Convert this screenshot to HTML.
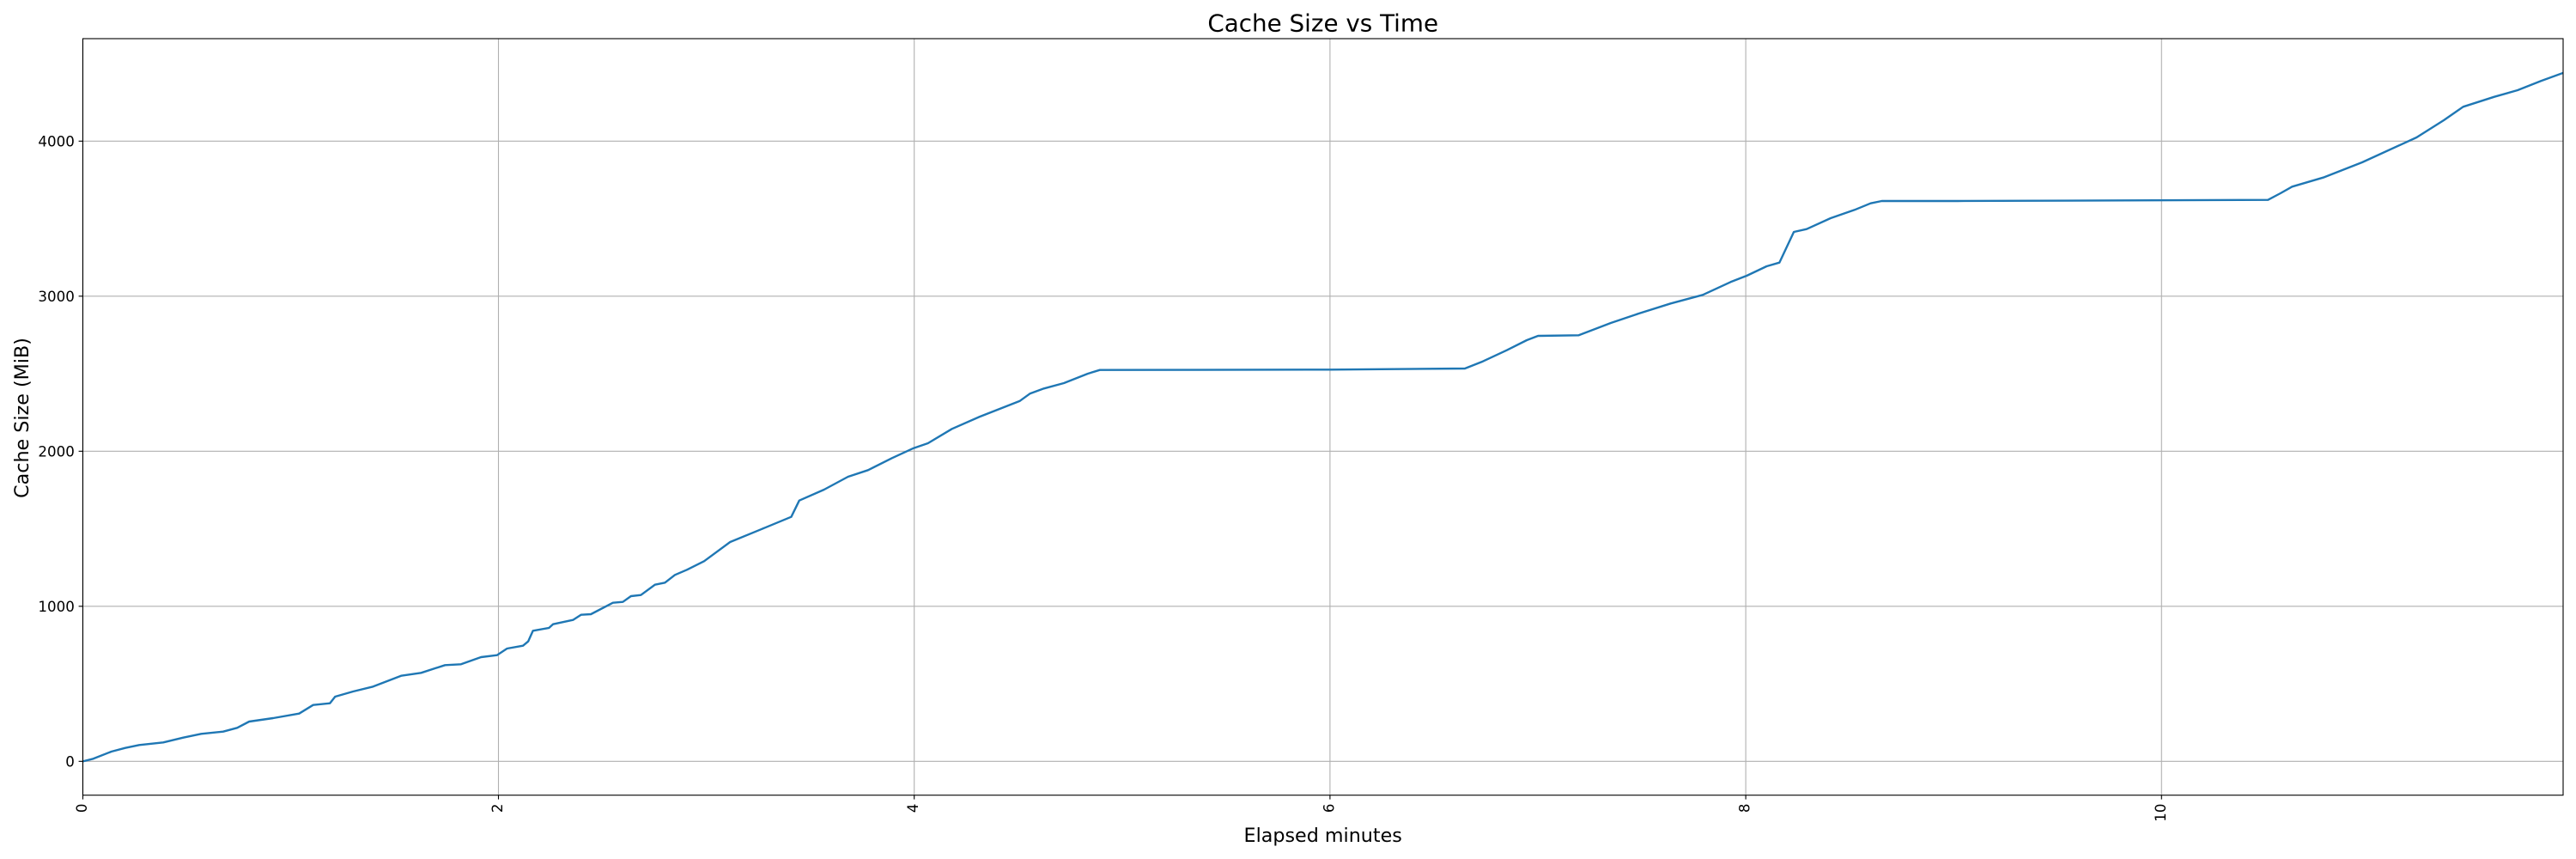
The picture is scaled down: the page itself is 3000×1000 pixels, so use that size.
<!DOCTYPE html>
<html>
<head>
<meta charset="utf-8">
<style>
html,body{margin:0;padding:0;background:#fff;}
svg{display:block;}
text{font-family:"DejaVu Sans","Liberation Sans",sans-serif;fill:#000;}
</style>
</head>
<body>
<svg width="3000" height="1000" viewBox="0 0 3000 1000" xmlns="http://www.w3.org/2000/svg">
<rect x="0" y="0" width="3000" height="1000" fill="#fff"/>
<defs>
<clipPath id="ax"><rect x="96.5" y="45" width="2888.5" height="880.7"/></clipPath>
</defs>
<!-- grid -->
<g stroke="#b0b0b0" stroke-width="1.1" fill="none">
<line x1="96.3" y1="45" x2="96.3" y2="925.7"/>
<line x1="580.5" y1="45" x2="580.5" y2="925.7"/>
<line x1="1064.7" y1="45" x2="1064.7" y2="925.7"/>
<line x1="1548.9" y1="45" x2="1548.9" y2="925.7"/>
<line x1="2033.1" y1="45" x2="2033.1" y2="925.7"/>
<line x1="2517.3" y1="45" x2="2517.3" y2="925.7"/>
<line x1="96.5" y1="886.3" x2="2985" y2="886.3"/>
<line x1="96.5" y1="705.8" x2="2985" y2="705.8"/>
<line x1="96.5" y1="525.3" x2="2985" y2="525.3"/>
<line x1="96.5" y1="344.8" x2="2985" y2="344.8"/>
<line x1="96.5" y1="164.3" x2="2985" y2="164.3"/>
</g>
<!-- data -->
<polyline clip-path="url(#ax)" fill="none" stroke="#1f77b4" stroke-width="2.4" stroke-linejoin="round" points="
96.5,886.3 108.6,883.3 129.6,875 145.9,870.7 162.2,867.3 190.1,864.3 213.4,858.7 234.3,854.3 259.9,851.7 276.2,847.3 290.2,840 318.1,836 348.4,830.7 364.7,820.7 384.2,818.7 390.3,811 411.2,805 434.5,799.3 467.1,786.7 490.4,783.3 518.3,774.3 536.9,773.3 560.2,765 578.8,762.7 590.5,755 609.1,751.7 615.1,746.7 620.7,734.3 639.3,731 644,726.7 667.3,721.7 676.6,715.7 688.2,715 713.8,701.7 725.4,700.7 734.8,694 746.4,692.7 762.7,680.7 774.4,678.3 786,669.3 800,663.3 820,653.3
850.3,631 885.2,616.7 921.5,601.7 930.8,582.7 959.7,570 987.6,555 1010.9,547.3 1038.8,533.3 1064,521.7 1080.7,516 1108.6,499.3 1141.2,485 1187.8,466.7 1199.4,458.3 1215.7,452.3 1239,446 1266.9,435 1280.9,430.7 1550,430.3
1706,429 1726.9,420.7 1754.8,407.7 1778.1,396 1791.2,391 1838.6,390.3 1875.9,376 1908.5,365 1945.7,353.3 1983,343.3 2015.5,328.3 2034.2,321 2057.4,310 2072.3,305.7 2089.1,270 2104,266.7 2131.9,254 2159.9,244.3 2178.5,236.7 2191.5,234 2280,234
2641.3,232.7 2655.8,225 2669.4,217.3 2705.6,206.7 2750.9,189 2796.2,168.3 2814.3,160 2846,140 2868.6,124.3 2904.9,112.7 2932,105 2959.2,94.3 2986,84.5"/>
<!-- axes frame -->
<rect x="96.5" y="45" width="2888.5" height="880.7" fill="none" stroke="#000" stroke-width="1.1"/>
<!-- ticks -->
<g stroke="#000" stroke-width="1.1">
<line x1="91.6" y1="886.3" x2="96.5" y2="886.3"/>
<line x1="91.6" y1="705.8" x2="96.5" y2="705.8"/>
<line x1="91.6" y1="525.3" x2="96.5" y2="525.3"/>
<line x1="91.6" y1="344.8" x2="96.5" y2="344.8"/>
<line x1="91.6" y1="164.3" x2="96.5" y2="164.3"/>
<line x1="96.5" y1="925.7" x2="96.5" y2="930.6"/>
<line x1="580.5" y1="925.7" x2="580.5" y2="930.6"/>
<line x1="1064.7" y1="925.7" x2="1064.7" y2="930.6"/>
<line x1="1548.9" y1="925.7" x2="1548.9" y2="930.6"/>
<line x1="2033.1" y1="925.7" x2="2033.1" y2="930.6"/>
<line x1="2517.3" y1="925.7" x2="2517.3" y2="930.6"/>
</g>
<!-- y tick labels -->
<g font-size="16.67" text-anchor="end">
<text x="86.8" y="892.4">0</text>
<text x="86.8" y="711.9">1000</text>
<text x="86.8" y="531.4">2000</text>
<text x="86.8" y="350.9">3000</text>
<text x="86.8" y="170.4">4000</text>
</g>
<!-- x tick labels (rotated) -->
<g font-size="16.67" text-anchor="end">
<text transform="translate(101,935.5) rotate(-90)">0</text>
<text transform="translate(585,935.5) rotate(-90)">2</text>
<text transform="translate(1069.2,935.5) rotate(-90)">4</text>
<text transform="translate(1553.4,935.5) rotate(-90)">6</text>
<text transform="translate(2037.6,935.5) rotate(-90)">8</text>
<text transform="translate(2521.8,935.5) rotate(-90)">10</text>
</g>
<!-- labels -->
<text x="1540.7" y="36.7" font-size="27.78" text-anchor="middle">Cache Size vs Time</text>
<text x="1540.7" y="980" font-size="22.22" text-anchor="middle">Elapsed minutes</text>
<text transform="translate(33,486.5) rotate(-90)" font-size="22.22" text-anchor="middle">Cache Size (MiB)</text>
</svg>
</body>
</html>
